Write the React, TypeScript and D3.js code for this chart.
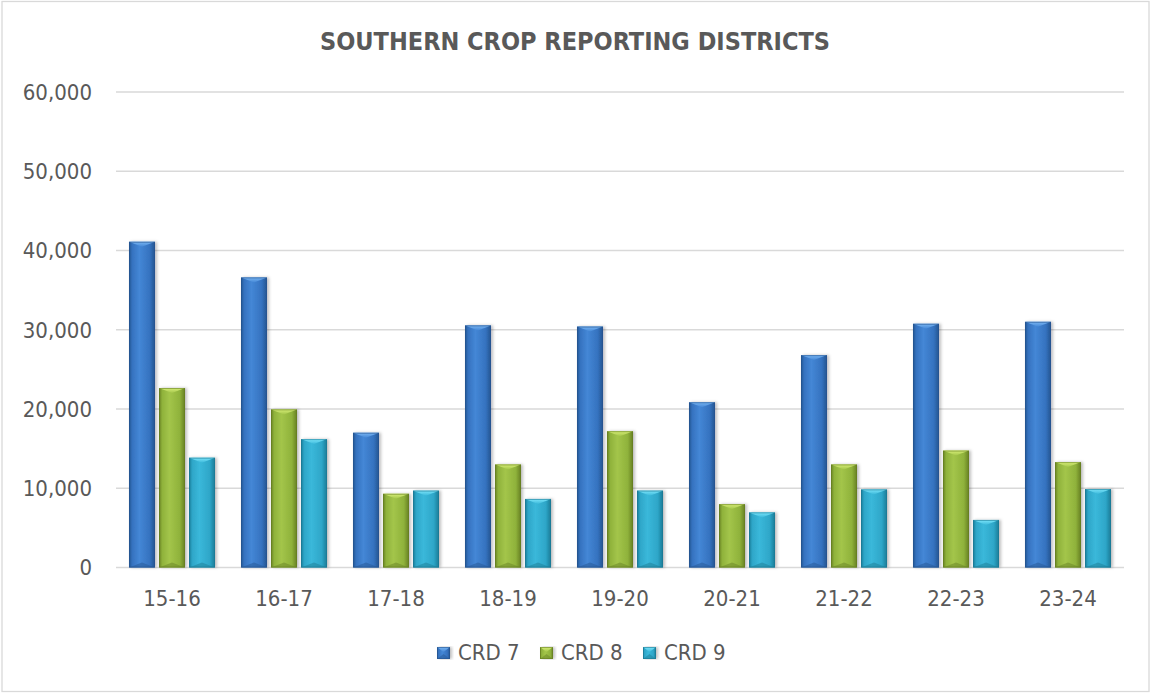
import React from 'react';
import * as d3 from 'd3';

const categories = ['15-16', '16-17', '17-18', '18-19', '19-20', '20-21', '21-22', '22-23', '23-24'];
const seriesNames = ['CRD 7', 'CRD 8', 'CRD 9'];
const crd7 = [41100, 36600, 17000, 30550, 30400, 20850, 26800, 30750, 31000];
const crd8 = [22650, 19950, 9300, 13000, 17200, 8000, 13000, 14750, 13300];
const crd9 = [13850, 16200, 9700, 8650, 9700, 6950, 9850, 6000, 9900];
const yTicks = [0, 10000, 20000, 30000, 40000, 50000, 60000];

// colour sets for the bevelled bars
const palette = [
  { id: 'b', dark: '#24548f', base: '#3572bf', light: '#4487d6', top: '#7ab6f2', bottom: '#2a5d9c' },
  { id: 'g', dark: '#667f22', base: '#8fb23b', light: '#a3c54a', top: '#d8ef78', bottom: '#708c2b' },
  { id: 'c', dark: '#1a7a95', base: '#2ea6c8', light: '#3ab8da', top: '#7ee6fb', bottom: '#22869f' },
];

const W = 1151;
const H = 693;
const plot = { left: 116, right: 1124, top: 92, bottom: 567.5 };
const font = '"DejaVu Sans Condensed", "DejaVu Sans", sans-serif';

export default function App() {
  const data = [crd7, crd8, crd9];

  const x0 = d3.scaleBand<string>().domain(categories).range([plot.left, plot.right]).padding(0);
  const x1 = d3
    .scaleBand<number>()
    .domain([0, 1, 2])
    .range([0, x0.bandwidth()])
    .paddingInner(0.133)
    .paddingOuter(0.433);
  const y = d3.scaleLinear().domain([0, 60000]).range([plot.bottom, plot.top]);
  const fmt = d3.format(',');

  const bar = (x: number, top: number, w: number, h: number, p: typeof palette[0], key: string) => {
    const bev = Math.min(5, h / 2);
    return (
      <g key={key}>
        <rect x={x} y={top} width={w} height={h} fill={`url(#grad-${p.id})`} filter="url(#shadow)" />
        <polygon
          points={`${x},${top + h} ${x + w},${top + h} ${x + w / 2},${top + h - bev}`}
          fill={p.bottom}
          opacity={0.6}
        />
        <polygon points={`${x},${top} ${x + w},${top} ${x + w / 2},${top + bev}`} fill={`url(#top-${p.id})`} />
        <rect x={x + 0.5} y={top + 0.5} width={w - 1} height={h - 1} fill="none" stroke={p.dark} strokeOpacity={0.6} />
      </g>
    );
  };

  const legendX = [437, 540, 643];

  return (
    <svg width={W} height={H} style={{ position: 'absolute', left: 0, top: 0, background: '#fff' }}>
      <defs>
        <filter id="shadow" x="-20%" y="-5%" width="150%" height="110%">
          <feDropShadow dx="2" dy="0" stdDeviation="1.5" floodColor="#000" floodOpacity="0.25" />
        </filter>
        {palette.map((p) => (
          <linearGradient key={p.id} id={`grad-${p.id}`} x1="0" x2="1" y1="0" y2="0">
            <stop offset="0" stopColor={p.dark} />
            <stop offset="0.12" stopColor={p.base} />
            <stop offset="0.4" stopColor={p.light} />
            <stop offset="0.8" stopColor={p.base} />
            <stop offset="1" stopColor={p.dark} />
          </linearGradient>
        ))}
        {palette.map((p) => (
          <linearGradient key={p.id} id={`top-${p.id}`} x1="0" x2="0" y1="0" y2="1">
            <stop offset="0" stopColor={p.top} />
            <stop offset="1" stopColor={p.light} />
          </linearGradient>
        ))}
      </defs>

      <rect x={2} y={1.5} width={1147} height={690} fill="#fff" stroke="#d9d9d9" strokeWidth={1.3} />

      <text
        x={575}
        y={50}
        textAnchor="middle"
        fontFamily={font}
        fontWeight="bold"
        fontSize={25}
        fill="#595959"
      >
        SOUTHERN CROP REPORTING DISTRICTS
      </text>

      {yTicks.map((t) => (
        <g key={t}>
          <line x1={plot.left} x2={plot.right} y1={y(t)} y2={y(t)} stroke="#d9d9d9" strokeWidth={1.5} />
          <text
            x={92}
            y={y(t)}
            dy="0.36em"
            textAnchor="end"
            fontFamily={font}
            fontSize={22}
            fill="#595959"
          >
            {fmt(t)}
          </text>
        </g>
      ))}

      {categories.map((c, i) => (
        <g key={c}>
          {data.map((s, k) =>
            bar(
              (x0(c) as number) + (x1(k) as number),
              y(s[i]),
              x1.bandwidth(),
              y(0) - y(s[i]),
              palette[k],
              `${c}-${k}`
            )
          )}
          <text
            x={(x0(c) as number) + x0.bandwidth() / 2}
            y={598.5}
            dy="0.36em"
            textAnchor="middle"
            fontFamily={font}
            fontSize={22}
            fill="#595959"
          >
            {c}
          </text>
        </g>
      ))}

      {seriesNames.map((n, k) => (
        <g key={n}>
          {bar(legendX[k], 647, 13, 12, palette[k], `leg-${k}`)}
          <text x={legendX[k] + 21} y={652.5} dy="0.36em" fontFamily={font} fontSize={22} fill="#595959">
            {n}
          </text>
        </g>
      ))}
    </svg>
  );
}
